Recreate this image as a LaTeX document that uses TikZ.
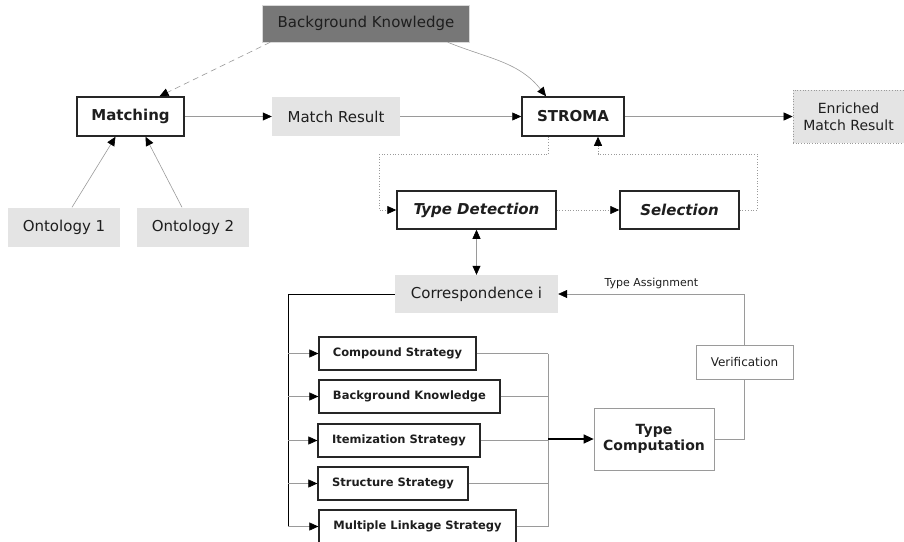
\documentclass[tikz,border=0pt]{standalone}
\usepackage{fontspec}
\setmainfont{DejaVu Sans}
\usetikzlibrary{arrows.meta,calc}
\definecolor{lgray}{HTML}{9A9A9A}
\definecolor{fillgray}{HTML}{E4E4E4}
\definecolor{darkfill}{HTML}{777777}
\definecolor{txt}{HTML}{1E1E1E}
\tikzset{
  tip/.style={-{Triangle[length=9pt,width=8pt,color=black]}},
  both/.style={{Triangle[length=9pt,width=8pt,color=black]}-{Triangle[length=9pt,width=8pt,color=black]}},
  thinline/.style={draw=lgray, line width=0.6pt},
  dotline/.style={draw=lgray, line width=0.7pt, dotted},
  bbox/.style={draw=black!85, line width=1.5pt, fill=white, text=txt, inner sep=0pt, font=\fontsize{15}{18}\selectfont\bfseries},
  gbox/.style={fill=fillgray, text=txt, inner sep=0pt, font=\fontsize{15}{18}\selectfont},
  sbox/.style={draw=black!85, line width=1.3pt, fill=white, text=txt, inner sep=0pt, minimum height=33pt, font=\fontsize{11.5}{14}\selectfont\bfseries},
  every node/.style={text=txt}
}
\begin{document}
\begin{tikzpicture}[x=1pt,y=-1pt]
\clip (0,0) rectangle (904,541);
\useasboundingbox (0,0) rectangle (904,541);
% top row
\node[draw=black!15, line width=0.6pt, fill=darkfill, text=txt, inner sep=0pt, minimum width=207pt, minimum height=37pt, font=\fontsize{15}{18}\selectfont] (bk) at (366,23.5) {Background Knowledge};
\node[bbox, minimum width=107pt, minimum height=39pt] (match) at (130.5,116.5) {Matching};
\node[gbox, minimum width=128pt, minimum height=39pt] (mres) at (336,116.5) {Match Result};
\node[bbox, minimum width=102pt, minimum height=39pt] (stroma) at (573,116.5) {STROMA};
\node[gbox, draw=lgray, dotted, line width=0.7pt, minimum width=111pt, minimum height=53pt, align=center, font=\fontsize{14}{17}\selectfont] (enr) at (848.5,116.5) {Enriched\\Match Result};
\node[gbox, minimum width=112pt, minimum height=39pt] (o1) at (64,227) {Ontology 1};
\node[gbox, minimum width=112pt, minimum height=39pt] (o2) at (193,227) {Ontology 2};
% type detection row
\node[bbox, minimum width=159pt, minimum height=38pt, font=\fontsize{15}{18}\selectfont\bfseries\itshape] (td) at (476.5,210) {Type Detection};
\node[bbox, minimum width=119pt, minimum height=38pt, font=\fontsize{15}{18}\selectfont\bfseries\itshape] (sel) at (679.5,210) {Selection};
\node[gbox, minimum width=163pt, minimum height=38pt] (corr) at (476.5,294) {Correspondence i};
% strategies
\node[sbox, minimum width=157pt] (s1) at (397.5,353.5) {Compound Strategy};
\node[sbox, minimum width=181pt] (s2) at (409.5,396.5) {Background Knowledge};
\node[sbox, minimum width=162pt] (s3) at (399,440.5) {Itemization Strategy};
\node[sbox, minimum width=150pt] (s4) at (393,483.5) {Structure Strategy};
\node[sbox, minimum width=197pt] (s5) at (417.5,526.5) {Multiple Linkage Strategy};
\node[draw=lgray, line width=0.7pt, fill=white, inner sep=0pt, minimum width=120pt, minimum height=62pt, align=center, font=\fontsize{14}{16}\selectfont\bfseries] (tc) at (654,439) {Type\\Computation};
\node[draw=lgray, line width=0.7pt, fill=white, inner sep=0pt, minimum width=97pt, minimum height=34pt, font=\fontsize{12}{14}\selectfont] (ver) at (744.5,362) {Verification};
% coordinates
\coordinate (l1) at (288,294);
\coordinate (l2) at (288,526.5);
\coordinate (r1) at (548,353.5);
\coordinate (r2) at (548,526.5);
\coordinate (rm) at (548,439);
% connectors top
\draw[thinline, dashed, dash pattern=on 6pt off 4pt, tip] ($(bk.south west)+(8,0)$) -- ($(match.north)+(29,0)$);
\draw[thinline, tip] ($(bk.south east)+(-22,0)$) to[out=-22,in=128] ($(stroma.north)+(-27,0)$);
\draw[thinline, tip] (match.east) -- (mres.west);
\draw[thinline, tip] (mres.east) -- (stroma.west);
\draw[thinline, tip] (stroma.east) -- (enr.west);
\draw[thinline, tip] ($(o1.north)+(8,0)$) -- ($(match.south)+(-15,0)$);
\draw[thinline, tip] ($(o2.north)+(-11,0)$) -- ($(match.south)+(15,0)$);
% loop
\draw[dotline, tip] ($(stroma.south)+(-25,0)$) -- ++(0,18) -| (379,210) -- (td.west);
\draw[dotline, tip] (td.east) -- (sel.west);
\draw[dotline, tip] (sel.east) -- (757,210) |- (598,154) -- ($(stroma.south)+(25,0)$);
\draw[thinline, both] (td.south) -- (corr.north);
% strategies
\draw[black, line width=0.8pt] (corr.west) -- (l1) -- (l2);
\foreach \s in {s1,s2,s3,s4,s5}{
  \draw[thinline, tip] (l1 |- \s.west) -- (\s.west);
  \draw[thinline] (\s.east) -- (r1 |- \s.east);
}
\draw[thinline] (r1) -- (r2);
\draw[black, line width=1.3pt, -{Triangle[length=10pt,width=9pt]}] (rm) -- (tc.west);
\draw[thinline] (tc.east) -| (ver.south);
\draw[thinline, tip] (ver.north) |- (corr.east) node[pos=0.75, above=2pt, font=\fontsize{11}{13}\selectfont] {Type Assignment};
\end{tikzpicture}
\end{document}
